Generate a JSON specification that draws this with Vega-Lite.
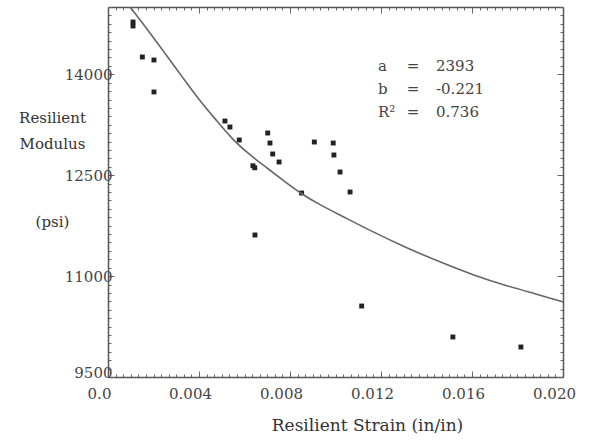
{
  "$schema": "https://vega.github.io/schema/vega-lite/v6.json",
  "width": 455,
  "height": 370,
  "autosize": "none",
  "padding": {"left": 108, "top": 7, "right": 35, "bottom": 66},
  "background": "white",
  "config": {"view": {"stroke": null}, "font": "DejaVu Serif"},
  "datasets": {
    "pts": [
      {"strain": 0.00110, "modulus": 14777},
      {"strain": 0.00110, "modulus": 14718},
      {"strain": 0.00151, "modulus": 14257},
      {"strain": 0.00202, "modulus": 14212},
      {"strain": 0.00202, "modulus": 13737},
      {"strain": 0.00514, "modulus": 13305},
      {"strain": 0.00536, "modulus": 13216},
      {"strain": 0.00577, "modulus": 13023},
      {"strain": 0.00637, "modulus": 12640},
      {"strain": 0.00645, "modulus": 12610},
      {"strain": 0.00702, "modulus": 13127},
      {"strain": 0.00712, "modulus": 12978},
      {"strain": 0.00724, "modulus": 12815},
      {"strain": 0.00752, "modulus": 12696},
      {"strain": 0.00851, "modulus": 12235},
      {"strain": 0.00907, "modulus": 12993},
      {"strain": 0.00990, "modulus": 12978},
      {"strain": 0.00993, "modulus": 12800},
      {"strain": 0.01020, "modulus": 12547},
      {"strain": 0.01064, "modulus": 12250},
      {"strain": 0.00646, "modulus": 11611},
      {"strain": 0.01115, "modulus": 10555},
      {"strain": 0.01516, "modulus": 10095},
      {"strain": 0.01815, "modulus": 9946}
    ],
    "curve": [
      {"strain": 0.00097, "modulus": 15000},
      {"strain": 0.00185, "modulus": 14614},
      {"strain": 0.00259, "modulus": 14272},
      {"strain": 0.00330, "modulus": 13945},
      {"strain": 0.00404, "modulus": 13603},
      {"strain": 0.00479, "modulus": 13305},
      {"strain": 0.00549, "modulus": 13023},
      {"strain": 0.00624, "modulus": 12800},
      {"strain": 0.00699, "modulus": 12607},
      {"strain": 0.00774, "modulus": 12414},
      {"strain": 0.00844, "modulus": 12235},
      {"strain": 0.00932, "modulus": 12057},
      {"strain": 0.01020, "modulus": 11908},
      {"strain": 0.01165, "modulus": 11655},
      {"strain": 0.01314, "modulus": 11418},
      {"strain": 0.01459, "modulus": 11209},
      {"strain": 0.01604, "modulus": 11016},
      {"strain": 0.01754, "modulus": 10853},
      {"strain": 0.01899, "modulus": 10719},
      {"strain": 0.02000, "modulus": 10615}
    ],
    "stats": [{"labels": ["a", "b", "R²"], "eq": ["=", "=", "="], "vals": ["2393", "-0.221", "0.736"]}]
  },
  "layer": [
    {
      "data": {"name": "pts"},
      "mark": {"type": "point", "shape": "square", "filled": true, "size": 24, "color": "#222", "opacity": 1},
      "encoding": {
        "x": {
          "field": "strain", "type": "quantitative",
          "scale": {"domain": [0, 0.02], "nice": false, "zero": false},
          "axis": {
            "orient": "bottom",
            "values": [0, 0.000333, 0.000667, 0.001, 0.001333, 0.001667, 0.002, 0.002333, 0.002667, 0.003, 0.003333, 0.003667, 0.004, 0.004333, 0.004667, 0.005, 0.005333, 0.005667, 0.006, 0.006333, 0.006667, 0.007, 0.007333, 0.007667, 0.008, 0.008333, 0.008667, 0.009, 0.009333, 0.009667, 0.01, 0.010333, 0.010667, 0.011, 0.011333, 0.011667, 0.012, 0.012333, 0.012667, 0.013, 0.013333, 0.013667, 0.014, 0.014333, 0.014667, 0.015, 0.015333, 0.015667, 0.016, 0.016333, 0.016667, 0.017, 0.017333, 0.017667, 0.018, 0.018333, 0.018667, 0.019, 0.019333, 0.019667, 0.02],
            "labelExpr": "abs(datum.value*250-round(datum.value*250))<0.01 ? (datum.value==0 ? '0.0' : format(datum.value,'.3f')) : ''",
            "tickSize": {"condition": {"test": "abs(datum.value*250-round(datum.value*250))<0.01", "value": -6}, "value": -3},
            "labelOverlap": false,
            "labelFlush": false,
            "labelOffset": -9,
            "labelPadding": 15,
            "labelFontSize": 15,
            "labelFont": "DejaVu Serif",
            "labelColor": "#444",
            "title": "Resilient Strain (in/in)",
            "titleFont": "DejaVu Serif",
            "titleFontSize": 17,
            "titleFontWeight": "normal",
            "titleColor": "#333",
            "titleX": 259,
            "titleY": 48,
            "titleAlign": "center",
            "titleBaseline": "middle",
            "domainColor": "#555",
            "domainWidth": 1.5,
            "tickColor": "#666",
            "grid": false
          }
        },
        "y": {
          "field": "modulus", "type": "quantitative",
          "scale": {"domain": [9500, 15000], "nice": false, "zero": false},
          "axis": {
            "orient": "left",
            "values": [9500, 9625, 9750, 9875, 10000, 10125, 10250, 10375, 10500, 10625, 10750, 10875, 11000, 11125, 11250, 11375, 11500, 11625, 11750, 11875, 12000, 12125, 12250, 12375, 12500, 12625, 12750, 12875, 13000, 13125, 13250, 13375, 13500, 13625, 13750, 13875, 14000, 14125, 14250, 14375, 14500, 14625, 14750, 14875, 15000],
            "labelExpr": "(datum.value-9500)%1500==0 ? format(datum.value,'d') : ''",
            "tickSize": {"condition": {"test": "(datum.value-9500)%1500==0", "value": -6}, "value": -3},
            "labelOffset": {"condition": {"test": "datum.value==9500", "value": -5}, "value": 0},
            "labelOverlap": false,
            "labelFlush": false,
            "labelPadding": 2,
            "labelFontSize": 15,
            "labelFont": "DejaVu Serif",
            "labelColor": "#444",
            "title": ["Resilient", "Modulus", "\u200b", "\u200b", "(psi)"],
            "titleFont": "DejaVu Serif",
            "titleFontSize": 15,
            "titleFontWeight": "normal",
            "titleColor": "#333",
            "titleAngle": 0,
            "titleX": -56,
            "titleY": 115,
            "titleAlign": "center",
            "titleBaseline": "alphabetic",
            "titleLineHeight": 26,
            "domainColor": "#555",
            "domainWidth": 1.5,
            "tickColor": "#666",
            "grid": false
          }
        }
      }
    },
    {
      "data": {"name": "curve"},
      "mark": {"type": "line", "interpolate": "basis", "color": "#666", "strokeWidth": 1.6, "clip": true},
      "encoding": {
        "x": {
          "field": "strain", "type": "quantitative",
          "axis": {
            "orient": "top",
            "values": [0, 0.000333, 0.000667, 0.001, 0.001333, 0.001667, 0.002, 0.002333, 0.002667, 0.003, 0.003333, 0.003667, 0.004, 0.004333, 0.004667, 0.005, 0.005333, 0.005667, 0.006, 0.006333, 0.006667, 0.007, 0.007333, 0.007667, 0.008, 0.008333, 0.008667, 0.009, 0.009333, 0.009667, 0.01, 0.010333, 0.010667, 0.011, 0.011333, 0.011667, 0.012, 0.012333, 0.012667, 0.013, 0.013333, 0.013667, 0.014, 0.014333, 0.014667, 0.015, 0.015333, 0.015667, 0.016, 0.016333, 0.016667, 0.017, 0.017333, 0.017667, 0.018, 0.018333, 0.018667, 0.019, 0.019333, 0.019667, 0.02],
            "labels": false,
            "title": null,
            "tickSize": {"condition": {"test": "abs(datum.value*250-round(datum.value*250))<0.01", "value": -6}, "value": -3},
            "domainColor": "#555",
            "domainWidth": 1.5,
            "tickColor": "#666",
            "grid": false
          }
        },
        "y": {
          "field": "modulus", "type": "quantitative",
          "axis": {
            "orient": "right",
            "values": [9500, 9625, 9750, 9875, 10000, 10125, 10250, 10375, 10500, 10625, 10750, 10875, 11000, 11125, 11250, 11375, 11500, 11625, 11750, 11875, 12000, 12125, 12250, 12375, 12500, 12625, 12750, 12875, 13000, 13125, 13250, 13375, 13500, 13625, 13750, 13875, 14000, 14125, 14250, 14375, 14500, 14625, 14750, 14875, 15000],
            "labels": false,
            "title": null,
            "tickSize": {"condition": {"test": "(datum.value-9500)%1500==0", "value": -6}, "value": -3},
            "domainColor": "#555",
            "domainWidth": 1.5,
            "tickColor": "#666",
            "grid": false
          }
        }
      }
    },
    {
      "data": {"name": "stats"},
      "mark": {"type": "text", "align": "left", "baseline": "middle", "font": "DejaVu Serif", "fontSize": 15, "lineHeight": 23, "color": "#444"},
      "encoding": {
        "x": {"datum": 0.011868, "type": "quantitative", "axis": null},
        "y": {"datum": 14123, "type": "quantitative", "axis": null},
        "text": {"field": "labels"}
      }
    },
    {
      "data": {"name": "stats"},
      "mark": {"type": "text", "align": "center", "baseline": "middle", "font": "DejaVu Serif", "fontSize": 15, "lineHeight": 23, "color": "#444"},
      "encoding": {
        "x": {"datum": 0.013407, "type": "quantitative", "axis": null},
        "y": {"datum": 14123, "type": "quantitative", "axis": null},
        "text": {"field": "eq"}
      }
    },
    {
      "data": {"name": "stats"},
      "mark": {"type": "text", "align": "left", "baseline": "middle", "font": "DejaVu Serif", "fontSize": 15, "lineHeight": 23, "color": "#444"},
      "encoding": {
        "x": {"datum": 0.014418, "type": "quantitative", "axis": null},
        "y": {"datum": 14123, "type": "quantitative", "axis": null},
        "text": {"field": "vals"}
      }
    }
  ],
  "resolve": {"axis": {"x": "independent", "y": "independent"}}
}
